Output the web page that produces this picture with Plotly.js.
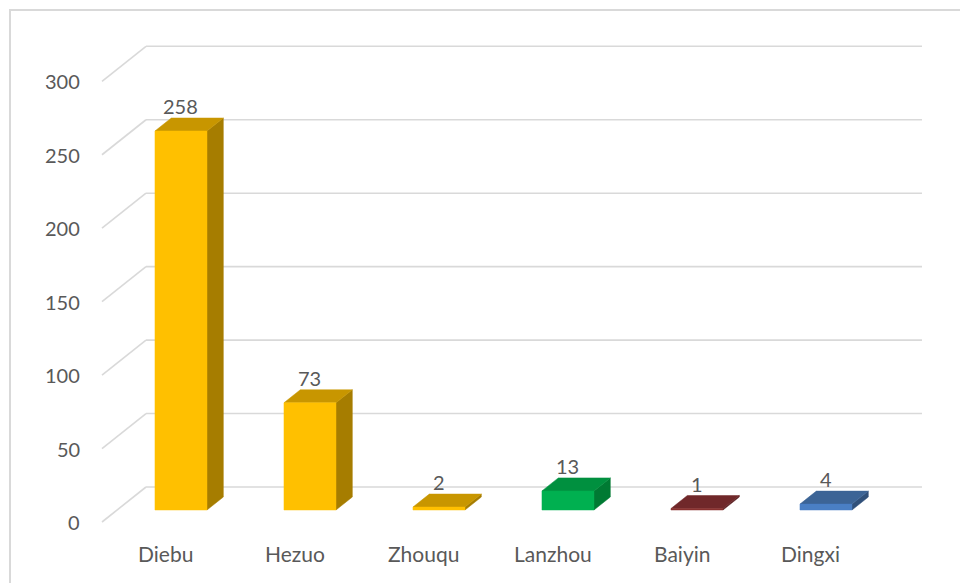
<!DOCTYPE html>
<html>
<head>
<meta charset="utf-8">
<script src="https://cdn.plot.ly/plotly-3.0.1.min.js"></script>
<style>html,body{margin:0;padding:0;background:#fff;}#chart{width:960px;height:583px;}</style>
</head>
<body>
<div id="chart"></div>
<script>
// ---- data ----
const categories = ["Diebu", "Hezuo", "Zhouqu", "Lanzhou", "Baiyin", "Dingxi"];
const values = [258, 73, 2, 13, 1, 4];
const tickValues = [0, 50, 100, 150, 200, 250, 300];
const frontColors = ["#FFC000", "#FFC000", "#FFC000", "#00B050", "#8B3330", "#4A7FC4"];
const topColors   = ["#C89600", "#C89600", "#C89600", "#00903F", "#70282A", "#3C6496"];
const sideColors  = ["#A67D00", "#A67D00", "#A67D00", "#007A33", "#5A2022", "#30507A"];

// ---- oblique projection helpers (data units) ----
const PXX = 129, PXY = 1.469;            // px per category, px per value unit
const DX = 1.257 / PXX, DY = 1 / PXY;    // depth offsets
function P(i, v, z) { return [i + z * DX, v + z * DY]; }
const HW = 0.2016;        // half bar width
const ZF = 12, ZB = 25;   // bar front / back depth
const ZW = 35;            // back wall depth
const XL = -0.4953;       // left wall front edge
const XR = 5.52;          // back wall right end (at wall depth)

const traces = [];
function poly(pts, color, line) {
  const xs = pts.map(p => p[0]), ys = pts.map(p => p[1]);
  xs.push(xs[0]); ys.push(ys[0]);
  traces.push({type: "scatter", mode: "lines", x: xs, y: ys, fill: "toself",
    fillcolor: color, line: {color: line || color, width: 0.5}, hoverinfo: "skip", showlegend: false});
}
function seg(a, b, color, w) {
  traces.push({type: "scatter", mode: "lines", x: [a[0], b[0]], y: [a[1], b[1]],
    line: {color: color, width: w}, hoverinfo: "skip", showlegend: false});
}

// gridlines: left wall diagonals + back wall horizontals
tickValues.forEach(t => {
  seg(P(XL, t, 0), P(XL, t, ZW), "#D9D9D9", 1.6);
  seg(P(XL, t, ZW), P(XR, t, ZW), "#D9D9D9", 1.6);
});

// bars
values.forEach((v, i) => {
  poly([P(i + HW, 0, ZF), P(i + HW, v, ZF), P(i + HW, v, ZB), P(i + HW, 0, ZB)], sideColors[i]);
  poly([P(i - HW, v, ZF), P(i + HW, v, ZF), P(i + HW, v, ZB), P(i - HW, v, ZB)], topColors[i]);
  poly([P(i - HW, 0, ZF), P(i + HW, 0, ZF), P(i + HW, v, ZF), P(i - HW, v, ZF)], frontColors[i]);
});

const font = {family: "Lato, 'Liberation Sans', sans-serif", size: 20, color: "#595959"};
const catFont = {family: "Lato, 'Liberation Sans', sans-serif", size: 21, color: "#595959"};
const annotations = [];
tickValues.forEach(t => {
  const p = P(XL, t, 0);
  annotations.push({x: p[0], y: p[1], xref: "x", yref: "y", text: String(t), showarrow: false,
    xanchor: "right", yanchor: "middle", xshift: -20, font: font});
});
categories.forEach((c, i) => {
  const p = P(i, 0, 0);
  annotations.push({x: p[0], y: p[1], xref: "x", yref: "y", text: c, showarrow: false,
    xanchor: "center", yanchor: "middle", yshift: -31, font: catFont});
});
values.forEach((v, i) => {
  const pf = P(i, v, ZF), pb = P(i, v, ZB);
  annotations.push({x: pf[0], y: pb[1], xref: "x", yref: "y", text: String(v), showarrow: false,
    xanchor: "center", yanchor: "middle", yshift: 12, font: font});
});

const layout = {
  width: 960, height: 583,
  margin: {l: 0, r: 0, t: 0, b: 0},
  paper_bgcolor: "#FFFFFF", plot_bgcolor: "#FFFFFF",
  xaxis: {range: [-165.9 / PXX, (960 - 165.9) / PXX], visible: false, fixedrange: true},
  yaxis: {range: [(522 - 583) / PXY, 522 / PXY], visible: false, fixedrange: true},
  annotations: annotations,
  shapes: [{type: "rect", xref: "paper", yref: "paper", x0: 10 / 960, x1: 1.05, y0: -0.05, y1: 1 - 10 / 583,
    line: {color: "#D9D9D9", width: 2}}],
  showlegend: false
};
Plotly.newPlot("chart", traces, layout, {displayModeBar: false, staticPlot: true});
</script>
</body>
</html>
